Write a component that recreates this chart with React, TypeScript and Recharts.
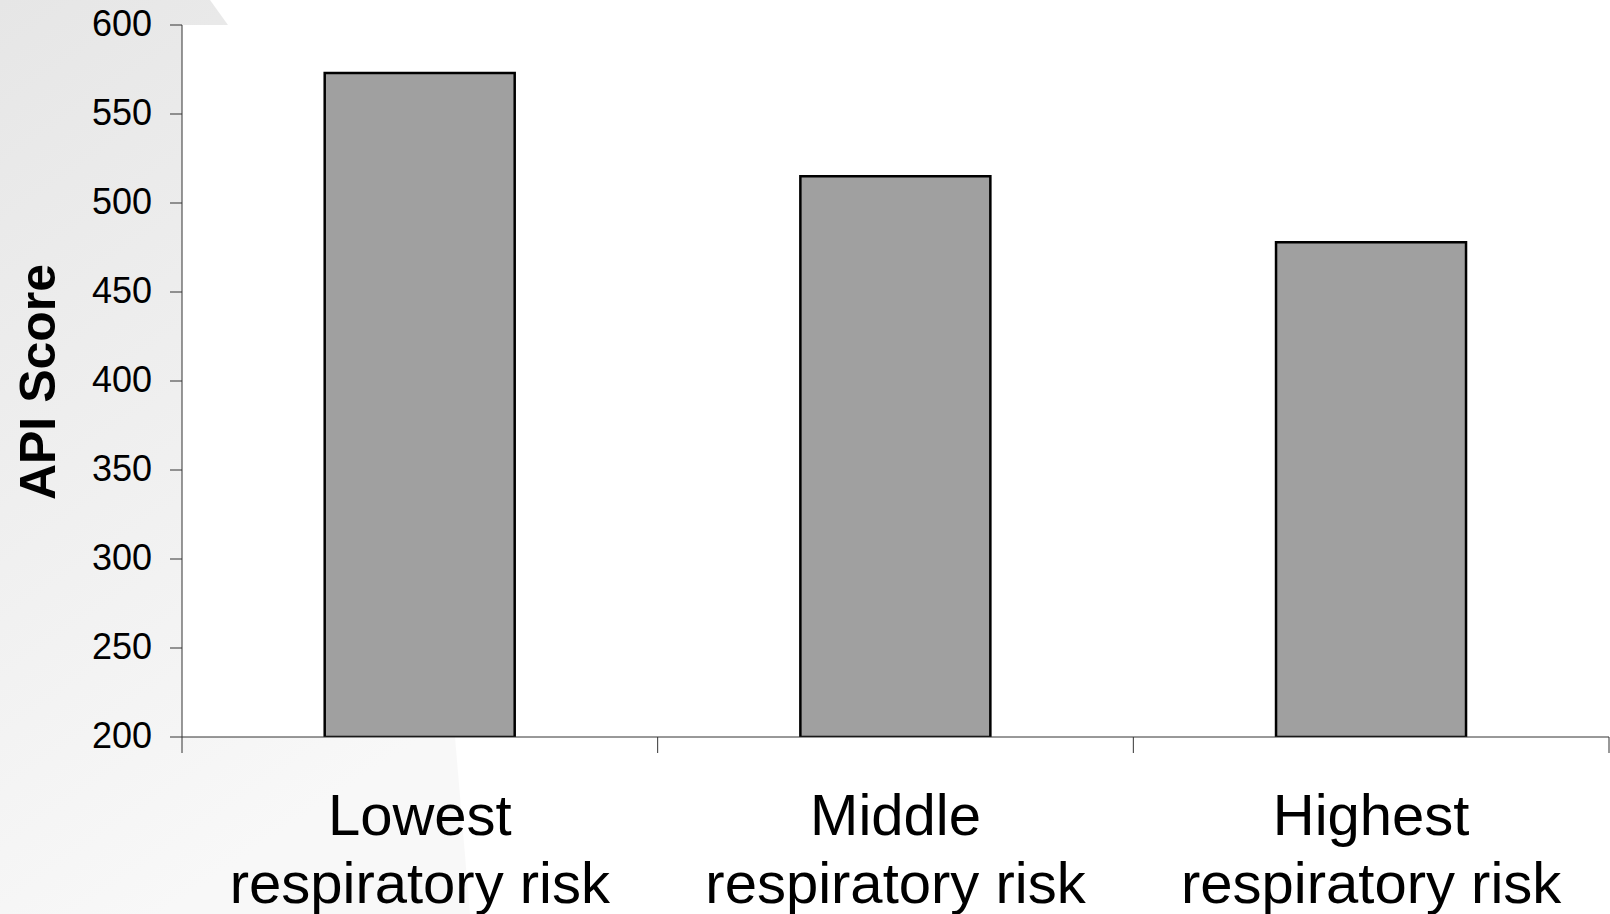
import React from 'react';
import { BarChart, Bar, XAxis, YAxis, CartesianGrid } from 'recharts';

const W = 1610;
const H = 914;
const FONT = '"Liberation Sans", Arial, sans-serif';

const categories = ['Lowest', 'Middle', 'Highest'];
const subLabel = 'respiratory risk';
const apiScores = [573, 515, 478];
const yTicks = [200, 250, 300, 350, 400, 450, 500, 550, 600];

const data = categories.map((c, i) => ({ name: c, score: apiScores[i] }));

// category label + tick marks at the band edges (from the band offset)
const CatTick = (props: any) => {
  const { x, y, payload, index, visibleTicksCount } = props;
  const off = payload?.offset ?? 0;
  const last = index === (visibleTicksCount ?? categories.length) - 1;
  return (
    <g>
      <line x1={x - off} y1={y} x2={x - off} y2={y + 16} stroke="#333" strokeWidth={1} />
      {last && <line x1={x + off} y1={y} x2={x + off} y2={y + 16} stroke="#333" strokeWidth={1} />}
      <text x={x} y={y} textAnchor="middle" fontFamily={FONT} fontSize={58} fill="#000">
        <tspan x={x} dy={98}>{payload.value}</tspan>
        <tspan x={x} dy={68}>{subLabel}</tspan>
      </text>
    </g>
  );
};

const YTick = (props: any) => {
  const { x, y, payload } = props;
  return (
    <text x={x} y={y} dy={11} textAnchor="end" fontFamily={FONT} fontSize={36} fill="#000">
      {payload.value}
    </text>
  );
};

const YLabel = (props: any) => {
  const vb = props.viewBox || { x: 0, y: 0, width: 0, height: 0 };
  const cx = vb.x + 55;
  const cy = vb.y + vb.height / 2 + 1;
  return (
    <text x={cx} y={cy} transform={`rotate(-90 ${cx} ${cy})`} textAnchor="middle"
      fontFamily={FONT} fontSize={50} fontWeight={700} fill="#000">
      API Score
    </text>
  );
};

export default function App() {
  return (
    <div style={{ position: 'absolute', left: 0, top: 0, width: W, height: H, background: '#fff', overflow: 'hidden' }}>
      {/* grey slide decoration behind the chart */}
      <svg width={W} height={H} style={{ position: 'absolute', left: 0, top: 0 }}>
        <defs>
          <linearGradient id="bgfade" x1="0" y1="0" x2="0.35" y2="1">
            <stop offset="0%" stopColor="#e6e6e6" />
            <stop offset="100%" stopColor="#f8f8f8" />
          </linearGradient>
        </defs>
        <polygon points="0,0 210,0 228,25 455,737 470,914 0,914" fill="url(#bgfade)" />
      </svg>
      <div style={{ position: 'absolute', left: 0, top: 0 }}>
        <BarChart width={W} height={H} data={data} barCategoryGap="30%"
          margin={{ top: 25, right: 1, bottom: 0, left: 0 }}>
          <CartesianGrid horizontal={false} vertical={false} fill="#fff" />
          <XAxis dataKey="name" height={177} tickSize={0} tickMargin={0} tickLine={false}
            axisLine={{ stroke: '#333', strokeWidth: 1 }} tick={<CatTick />} interval={0} />
          <YAxis type="number" domain={[200, 600]} ticks={yTicks} width={182} allowDataOverflow
            tickSize={12} tickMargin={18} axisLine={{ stroke: '#333', strokeWidth: 1 }}
            tickLine={{ stroke: '#333', strokeWidth: 1 }}
            tick={<YTick />}
            label={<YLabel />} />
          <Bar dataKey="score" fill="#a0a0a0" stroke="#000" strokeWidth={2.5} isAnimationActive={false} />
        </BarChart>
      </div>
    </div>
  );
}
